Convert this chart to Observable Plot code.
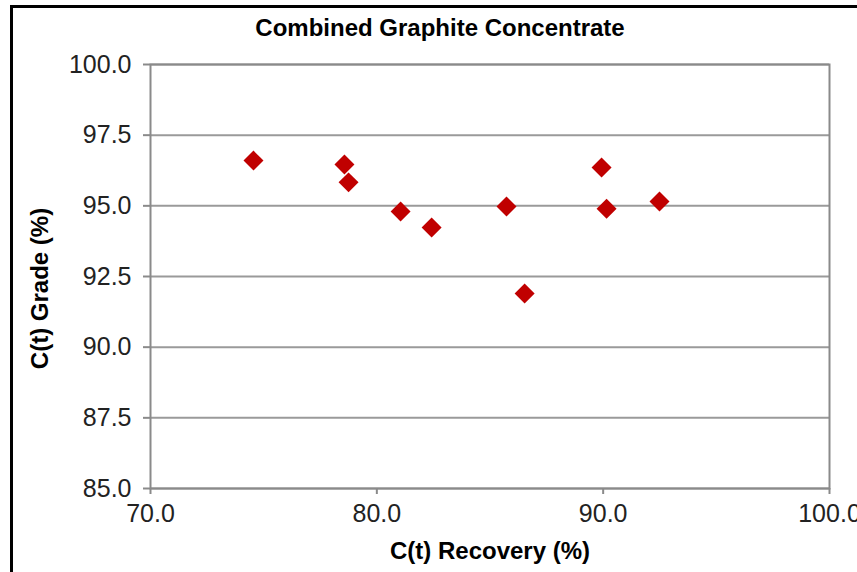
<!DOCTYPE html>
<html>
<head>
<meta charset="utf-8">
<script src="https://cdn.jsdelivr.net/npm/d3@7"></script>
<script src="https://cdn.jsdelivr.net/npm/@observablehq/plot@0.6"></script>
<style>
  html, body { margin: 0; padding: 0; background: #fff; overflow: hidden; }
  #wrap { position: relative; width: 857px; height: 572px; }
  #frame { position: absolute; left: 10px; top: 5px; width: 900px; height: 600px;
           border-left: 3px solid #000; border-top: 3px solid #000; box-sizing: border-box; pointer-events: none; }
  #chart { position: absolute; left: 0; top: 0; }
</style>
</head>
<body>
<div id="wrap"><div id="chart"></div><div id="frame"></div></div>
<script>
const recovery = [74.55, 78.57, 78.75, 81.05, 82.42, 85.73, 86.53, 89.93, 90.15, 92.49];
const grade    = [96.60, 96.46, 95.83, 94.80, 94.23, 94.98, 91.90, 96.36, 94.90, 95.15];
const xTicks = [70, 80, 90, 100];
const yTicks = [85, 87.5, 90, 92.5, 95, 97.5, 100];
const title = "Combined Graphite Concentrate";
const xLabel = "C(t) Recovery (%)";
const yLabel = "C(t) Grade (%)";

const data = recovery.map((r, i) => ({recovery: r, grade: grade[i]}));
const fmt = d3.format(".1f");
const font = "Liberation Sans, Arial, sans-serif";

const chart = Plot.plot({
  width: 857,
  height: 572,
  marginLeft: 150,
  marginRight: 28,
  marginTop: 64,
  marginBottom: 84,
  style: {fontFamily: font, background: "transparent", overflow: "visible"},
  x: {domain: [70, 100]},
  y: {domain: [85, 100]},
  marks: [
    Plot.gridY(yTicks, {stroke: "#9a9a9a", strokeOpacity: 1, strokeWidth: 2}),
    Plot.frame({stroke: "#8a8a8a", strokeWidth: 2}),
    Plot.axisX(xTicks, {tickFormat: fmt, tickSize: 6, tickPadding: 10, fontSize: 25, fill: "#222",
      stroke: "#8a8a8a", strokeWidth: 2, label: null}),
    Plot.axisY(yTicks, {tickFormat: fmt, tickSize: 7, tickPadding: 12, fontSize: 25, fill: "#222",
      stroke: "#8a8a8a", strokeWidth: 2, label: null}),
    Plot.dot(data, {x: "recovery", y: "grade", symbol: "diamond2", r: 9, fill: "#c00000", stroke: "none"}),
    Plot.text([title], {frameAnchor: "top", lineAnchor: "middle", textAnchor: "middle", dx: -50, dy: -36,
      fontSize: 24, fontWeight: "bold", fill: "#000"}),
    Plot.text([xLabel], {frameAnchor: "bottom", lineAnchor: "middle", textAnchor: "middle", dy: 63,
      fontSize: 24, fontWeight: "bold", fill: "#000"}),
    Plot.text([yLabel], {frameAnchor: "left", lineAnchor: "middle", textAnchor: "middle", dx: -110, dy: 12, rotate: -90,
      fontSize: 24, fontWeight: "bold", fill: "#000"})
  ]
});
document.getElementById("chart").appendChild(chart);
</script>
</body>
</html>
